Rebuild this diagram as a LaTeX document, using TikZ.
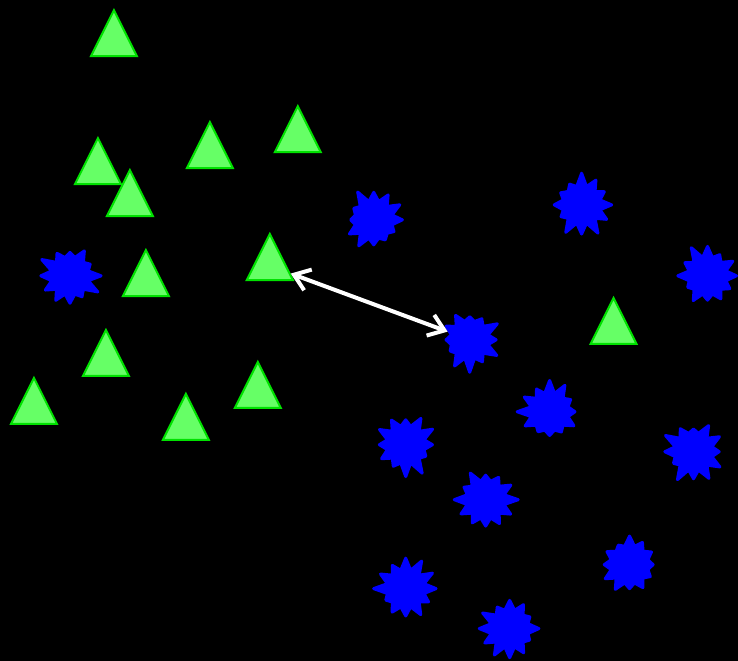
\documentclass[tikz,border=0pt]{standalone}
\usepackage{xcolor}
\usepackage{tikz}
\usetikzlibrary{shapes.geometric, shapes.symbols, arrows.meta}
\definecolor{TriFill}{RGB}{102, 255, 102}
\definecolor{TriEdge}{RGB}{0, 225, 0}
\definecolor{BurstBlue}{RGB}{0, 0, 255}

\begin{document}
\begin{tikzpicture}[x=1pt, y=-1pt,
    tri/.style={isosceles triangle, shape border rotate=90, isosceles triangle stretches,
        minimum width=46pt, minimum height=46pt, inner sep=0pt,
        fill=TriFill, draw=TriEdge, line width=2pt, yshift=-9pt},
    burst/.style={starburst, starburst points=12, starburst point height=14pt,
        minimum width=66pt, minimum height=66pt, inner sep=0pt,
        fill=BurstBlue, draw=BurstBlue, line width=3pt, line join=round},
    link/.style={white, line width=4pt, {Straight Barb[length=15pt, width=22pt]}-{Straight Barb[length=15pt, width=22pt]}}]
    % 背景
    \fill[black] (0,0) rectangle (738,661);

    % 绿色三角形
    \foreach \n/\x/\y in {1/114/33, 2/98/161, 3/210/145, 4/298/129, 5/130/193, 6/146/273,
        7/270/257, 8/106/353, 9/34/401, 10/258/385, 11/186/417, 12/614/321}
        \node[tri] (t\n) at (\x,\y) {};

    % 蓝色星形
    \foreach \n/\x/\y/\s in {1/70/276/3, 2/374/220/5, 3/582/205/7, 4/708/276/11, 5/470/340/13,
        6/550/412/17, 7/406/445/19, 8/694/452/23, 9/486/500/29, 10/630/565/31,
        11/406/589/37, 12/510/629/41}
        \node[burst, random starburst=\s] (s\n) at (\x,\y) {};

    % 双向箭头
    \draw[link] (t7) -- (s5);
\end{tikzpicture}
\end{document}
